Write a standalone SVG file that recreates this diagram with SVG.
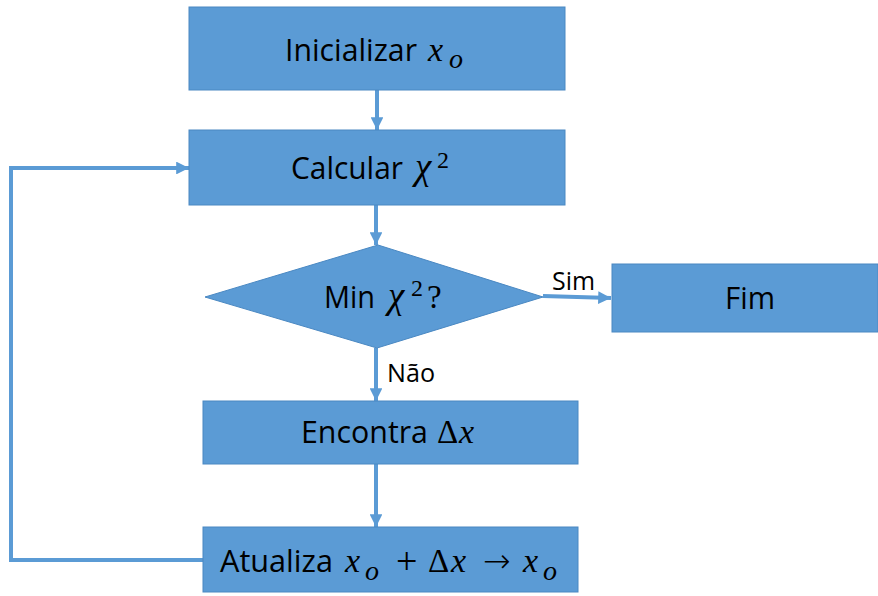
<svg xmlns="http://www.w3.org/2000/svg" width="878" height="596" viewBox="0 0 878 596">
<defs>
<style>
.box{fill:#5B9BD5;stroke:#4A88C2;stroke-width:1}
.con{fill:none;stroke:#5B9BD5;stroke-width:4}
.t{font-family:"Open Sans","Noto Sans",sans-serif;font-size:31px;fill:#000}
.m{font-family:"Liberation Serif","DejaVu Serif",serif;font-style:italic;font-size:34px;fill:#000}
.chi{font-family:"Liberation Serif","DejaVu Serif",serif;font-style:italic;font-size:37px;fill:#000}
.mn{font-family:"Liberation Serif","DejaVu Serif",serif;font-size:33px;fill:#000}
.op{font-family:"Liberation Serif","DejaVu Serif",serif;font-size:38px;fill:#000}
.arr{font-family:"DejaVu Sans Light","DejaVu Sans",sans-serif;font-weight:200;font-size:33px;fill:#000}
.sub{font-family:"Liberation Serif","DejaVu Serif",serif;font-style:italic;font-size:28px;fill:#000}
.sup{font-family:"Liberation Serif","DejaVu Serif",serif;font-size:24px;fill:#000}
.lbl{font-family:"Open Sans","Noto Sans",sans-serif;font-size:25px;fill:#000}
</style>
<marker id="ah" viewBox="0 0 10 10" refX="10" refY="5" markerWidth="3.2" markerHeight="3.2" orient="auto" markerUnits="strokeWidth">
<path d="M0,0 L10,5 L0,10 Z" fill="#5B9BD5"/>
</marker>
</defs>
<g id="connectors">
<line class="con" x1="377" y1="90" x2="377" y2="130" marker-end="url(#ah)"/>
<line class="con" x1="376" y1="205" x2="376" y2="245" marker-end="url(#ah)"/>
<line class="con" x1="543" y1="296" x2="611" y2="298" marker-end="url(#ah)"/>
<line class="con" x1="376" y1="348" x2="376" y2="401" marker-end="url(#ah)"/>
<line class="con" x1="376" y1="464" x2="376" y2="527" marker-end="url(#ah)"/>
<polyline class="con" points="203,560 11,560 11,168 189,168" marker-end="url(#ah)"/>
<text class="lbl" x="552" y="290" textLength="43" lengthAdjust="spacingAndGlyphs">Sim</text>
<text class="lbl" x="387" y="382" textLength="48" lengthAdjust="spacingAndGlyphs">Não</text>
</g>
<g id="n1">
<rect class="box" x="189" y="7" width="376" height="83"/>
<text class="t" x="285" y="61" textLength="132" lengthAdjust="spacingAndGlyphs">Inicializar</text>
<text class="m" x="428" y="61">x</text>
<text class="sub" x="449" y="68">o</text>
</g>
<g id="n2">
<rect class="box" x="189" y="130" width="376" height="75"/>
<text class="t" x="291" y="179" textLength="112" lengthAdjust="spacingAndGlyphs">Calcular</text>
<text class="chi" x="415" y="179">χ</text>
<text class="sup" x="437" y="168">2</text>
</g>
<g id="n3">
<polygon class="box" points="378,245 543,297 377,348 205,297"/>
<text class="t" x="324" y="308" textLength="51" lengthAdjust="spacingAndGlyphs">Min</text>
<text class="chi" x="388" y="308">χ</text>
<text class="sup" x="411" y="296">2</text>
<text class="mn" x="427" y="308">?</text>
</g>
<g id="n4">
<rect class="box" x="612" y="264" width="266" height="68"/>
<text class="t" x="725" y="309" textLength="50" lengthAdjust="spacingAndGlyphs">Fim</text>
</g>
<g id="n5">
<rect class="box" x="203" y="401" width="375" height="63"/>
<text class="t" x="301" y="443" textLength="127" lengthAdjust="spacingAndGlyphs">Encontra</text>
<text class="mn" x="437" y="443">Δ</text>
<text class="m" x="459" y="443">x</text>
</g>
<g id="n6">
<rect class="box" x="203" y="527" width="375" height="65"/>
<text class="t" x="220" y="572" textLength="113" lengthAdjust="spacingAndGlyphs">Atualiza</text>
<text class="m" x="345" y="572">x</text>
<text class="sub" x="365" y="580">o</text>
<text class="op" x="396" y="574">+</text>
<text class="mn" x="428" y="572">Δ</text>
<text class="m" x="451" y="572">x</text>
<text class="arr" x="483" y="572">→</text>
<text class="m" x="523" y="572">x</text>
<text class="sub" x="543" y="580">o</text>
</g>
</svg>
